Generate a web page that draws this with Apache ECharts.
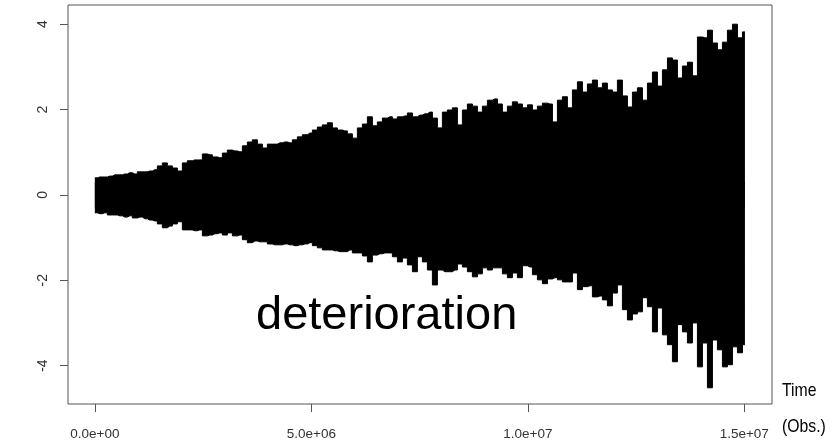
<!DOCTYPE html>
<html lang="en">
<head>
    <meta charset="UTF-8">
    <title>deterioration</title>
    <script src="https://cdn.jsdelivr.net/npm/echarts@6/dist/echarts.min.js"></script>
    <style>
        html, body { margin: 0; padding: 0; background: #fff; }
        #main { width: 834px; height: 441px; }
    </style>
</head>
<body>
<div id="main"></div>
<script type="text/javascript">
    // observations are sampled every obsStep along the time axis
    var obsStep = 115500;
    // upper / lower envelope of the signal
    var upper = [0.40, 0.42, 0.42, 0.44, 0.47, 0.47, 0.49, 0.52, 0.49, 0.54,
        0.54, 0.56, 0.59, 0.68, 0.75, 0.68, 0.63, 0.56, 0.75, 0.80,
        0.82, 0.82, 0.96, 0.94, 0.89, 0.87, 0.98, 1.05, 1.03, 1.01,
        1.15, 1.24, 1.29, 1.19, 1.10, 1.19, 1.19, 1.22, 1.24, 1.22,
        1.29, 1.36, 1.41, 1.45, 1.52, 1.59, 1.64, 1.69, 1.57, 1.52,
        1.50, 1.43, 1.33, 1.57, 1.66, 1.83, 1.62, 1.71, 1.80, 1.83,
        1.78, 1.83, 1.85, 1.92, 1.83, 1.87, 1.90, 1.94, 1.80, 1.57,
        1.94, 1.99, 2.04, 1.64, 1.99, 2.13, 2.08, 1.94, 2.08, 2.22,
        2.25, 2.13, 1.94, 2.08, 2.18, 2.13, 2.04, 2.11, 1.99, 2.08,
        2.15, 2.13, 1.71, 2.22, 2.30, 2.04, 2.46, 2.65, 2.41, 2.60,
        2.69, 2.51, 2.62, 2.46, 2.41, 2.69, 2.32, 2.06, 2.41, 2.51,
        2.22, 2.62, 2.88, 2.55, 2.93, 3.21, 3.16, 2.74, 3.02, 3.11,
        2.79, 3.70, 3.68, 3.86, 3.56, 3.40, 3.58, 3.86, 4.00, 3.68,
        3.82];
    var lower = [-0.42, -0.44, -0.42, -0.47, -0.47, -0.49, -0.52, -0.49, -0.54, -0.52,
        -0.56, -0.59, -0.61, -0.68, -0.77, -0.73, -0.68, -0.63, -0.82, -0.82,
        -0.84, -0.82, -0.96, -0.94, -0.91, -0.89, -0.94, -0.89, -0.96, -0.94,
        -1.05, -1.12, -1.08, -1.10, -1.10, -1.15, -1.17, -1.17, -1.15, -1.17,
        -1.19, -1.17, -1.15, -1.12, -1.19, -1.24, -1.29, -1.29, -1.31, -1.33,
        -1.33, -1.29, -1.36, -1.36, -1.43, -1.57, -1.41, -1.38, -1.36, -1.36,
        -1.45, -1.57, -1.48, -1.64, -1.80, -1.45, -1.57, -1.76, -2.11, -1.76,
        -1.80, -1.80, -1.76, -1.62, -1.69, -1.80, -1.92, -1.85, -1.71, -1.76,
        -1.71, -1.71, -1.85, -1.94, -1.83, -1.94, -1.66, -1.69, -1.87, -1.99,
        -2.08, -1.97, -1.94, -1.99, -2.04, -2.04, -1.83, -2.22, -2.15, -2.13,
        -2.39, -2.37, -2.46, -2.60, -2.30, -2.11, -2.69, -2.93, -2.79, -2.74,
        -2.41, -2.62, -3.21, -2.65, -3.28, -3.51, -3.91, -3.04, -3.21, -3.47,
        -3.00, -4.03, -3.47, -4.52, -3.40, -3.63, -4.03, -3.98, -3.56, -3.70,
        -3.51];
    var xTicks = [0, 5e6, 1e7, 1.5e7];
    var yTicks = [-4, -2, 0, 2, 4];

    var upperData = [], lowerData = [];
    for (var i = 0; i < upper.length; i++) {
        upperData.push([i * obsStep, upper[i]]);
        lowerData.push([i * obsStep, lower[i]]);
    }

    // R style scientific labels: 0.0e+00
    function sci(v) {
        if (v === 0) return '0.0e+00';
        var s = v.toExponential(1).split('e');
        var ex = parseInt(s[1], 10);
        return s[0] + 'e' + (ex < 0 ? '-' : '+') + (Math.abs(ex) < 10 ? '0' : '') + Math.abs(ex);
    }

    var myChart = echarts.init(document.getElementById('main'));
    var option = {
        animation: false,
        grid: {
            left: 68, right: 62, top: 5, bottom: 37,
            show: true, borderColor: '#555', borderWidth: 1, backgroundColor: '#fff'
        },
        xAxis: {
            type: 'value', min: -620000, max: 15640000,
            axisLine: {show: false, onZero: false},
            splitLine: {show: false},
            axisTick: {show: true, customValues: xTicks, length: 8, lineStyle: {color: '#555'}},
            axisLabel: {
                customValues: xTicks, formatter: sci, margin: 23,
                fontFamily: 'Liberation Sans, Arial, sans-serif', fontSize: 13.5, color: '#333'
            }
        },
        yAxis: {
            type: 'value', min: -4.9, max: 4.45,
            axisLine: {show: false, onZero: false},
            splitLine: {show: false},
            axisTick: {show: true, customValues: yTicks, length: 8, lineStyle: {color: '#555'}},
            axisLabel: {
                customValues: yTicks, rotate: 90, margin: 18,
                fontFamily: 'Liberation Sans, Arial, sans-serif', fontSize: 14, color: '#333'
            }
        },
        series: [
            {
                name: 'upper', type: 'line', step: 'middle', data: upperData,
                symbol: 'none', silent: true,
                lineStyle: {color: '#000', width: 1},
                areaStyle: {color: '#000', opacity: 1, origin: -0.3}
            },
            {
                name: 'lower', type: 'line', step: 'middle', data: lowerData,
                symbol: 'none', silent: true,
                lineStyle: {color: '#000', width: 1},
                areaStyle: {color: '#000', opacity: 1, origin: 0.3}
            }
        ],
        graphic: [
            {type: 'text', x: 256, y: 316, silent: true,
                style: {text: 'deterioration', font: '47px "Liberation Sans", Arial, sans-serif',
                    fill: '#000', textVerticalAlign: 'middle'}},
            {type: 'text', x: 782, y: 391, scaleX: 0.83, silent: true,
                style: {text: 'Time', font: '19px "Liberation Sans", Arial, sans-serif',
                    fill: '#000', textVerticalAlign: 'middle'}},
            {type: 'text', x: 782, y: 427, scaleX: 0.83, silent: true,
                style: {text: '(Obs.)', font: '19px "Liberation Sans", Arial, sans-serif',
                    fill: '#000', textVerticalAlign: 'middle'}}
        ]
    };
    myChart.setOption(option);
</script>
</body>
</html>
